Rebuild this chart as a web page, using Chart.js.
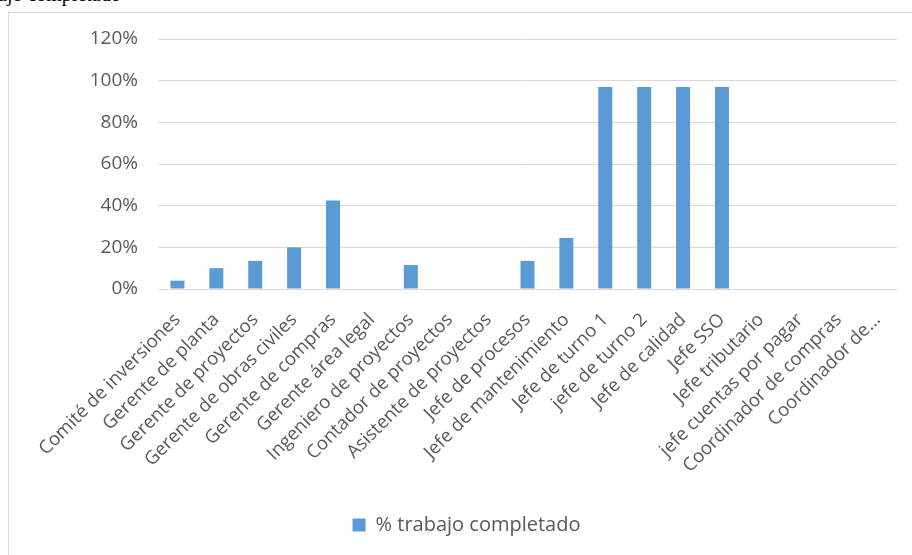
<!DOCTYPE html>
<html>
<head>
<meta charset="utf-8">
<script src="https://cdn.jsdelivr.net/npm/chart.js@4.4.1/dist/chart.umd.min.js"></script>
<style>
    body { margin: 0; background: #fff; overflow: hidden; }
    #wrap { position: relative; width: 912px; height: 555px; }
    #frame { position: absolute; left: 8px; top: 12px; right: -5px; bottom: -5px; border-top: 1px solid #d9d9d9; border-left: 1px solid #d9d9d9; }
    #caption { position: absolute; left: -2px; top: -16px; font: 20px "Liberation Serif", serif; color: #000; white-space: nowrap; line-height: 20px; }
    canvas { position: absolute; left: 0; top: 0; }
</style>
</head>
<body>
<div id="wrap">
    <div id="caption">ajo completado</div>
    <div id="frame"></div>
    <canvas id="chart" width="912" height="555"></canvas>
</div>
<script>
const categories = [
    'Comité de inversiones', 'Gerente de planta', 'Gerente de proyectos',
    'Gerente de obras civiles', 'Gerente de compras', 'Gerente área legal',
    'Ingeniero de proyectos', 'Contador de proyectos', 'Asistente de proyectos',
    'Jefe de procesos', 'Jefe de mantenimiento', 'Jefe de turno 1',
    'jefe de turno 2', 'Jefe de calidad', 'Jefe SSO', 'Jefe tributario',
    'jefe cuentas por pagar', 'Coordinador de compras', 'Coordinador de...'
];
const completed = [4, 10, 13.5, 20, 42.5, 0, 11.5, 0, 0, 13.5, 24.5, 97, 97, 97, 97, 0, 0, 0, 0];
const seriesName = '% trabajo completado';
const yTicks = [0, 20, 40, 60, 80, 100, 120];

const textGray = '#595959';
const gridGray = '#d9d9d9';
const barBlue = '#5b9bd5';

// legend sits a bit right of the canvas centre in the original
const shiftLegend = {
    id: 'shiftLegend',
    afterLayout(chart) {
        chart.legend.left += 18;
        chart.legend.right += 18;
    }
};

new Chart(document.getElementById('chart'), {
    type: 'bar',
    data: {
        labels: categories,
        datasets: [{
            label: seriesName,
            data: completed,
            backgroundColor: barBlue,
            borderWidth: 0,
            categoryPercentage: 1,
            barPercentage: 0.36
        }]
    },
    options: {
        responsive: false,
        animation: false,
        devicePixelRatio: 1,
        layout: { padding: { top: 39, right: 15, bottom: 10, left: 0 } },
        plugins: {
            tooltip: { enabled: false },
            legend: {
                position: 'bottom',
                labels: {
                    color: textGray,
                    font: { family: 'Open Sans', size: 20 },
                    boxWidth: 13,
                    boxHeight: 13,
                    padding: 10
                }
            }
        },
        scales: {
            x: {
                grid: { display: false },
                border: { color: gridGray },
                ticks: {
                    color: textGray,
                    font: { family: 'Open Sans', size: 18.5 },
                    autoSkip: false,
                    minRotation: 45,
                    maxRotation: 45,
                    padding: 12
                },
                afterFit: axis => { axis.height = 216; }
            },
            y: {
                min: 0,
                max: 120,
                afterBuildTicks: axis => { axis.ticks = yTicks.map(v => ({ value: v })); },
                grid: { color: gridGray, drawTicks: false },
                border: { display: false },
                ticks: {
                    color: textGray,
                    font: { family: 'Open Sans', size: 19 },
                    padding: 20,
                    callback: v => v + '%'
                },
                afterFit: axis => { axis.width = 158; }
            }
        }
    },
    plugins: [shiftLegend]
});
</script>
</body>
</html>
